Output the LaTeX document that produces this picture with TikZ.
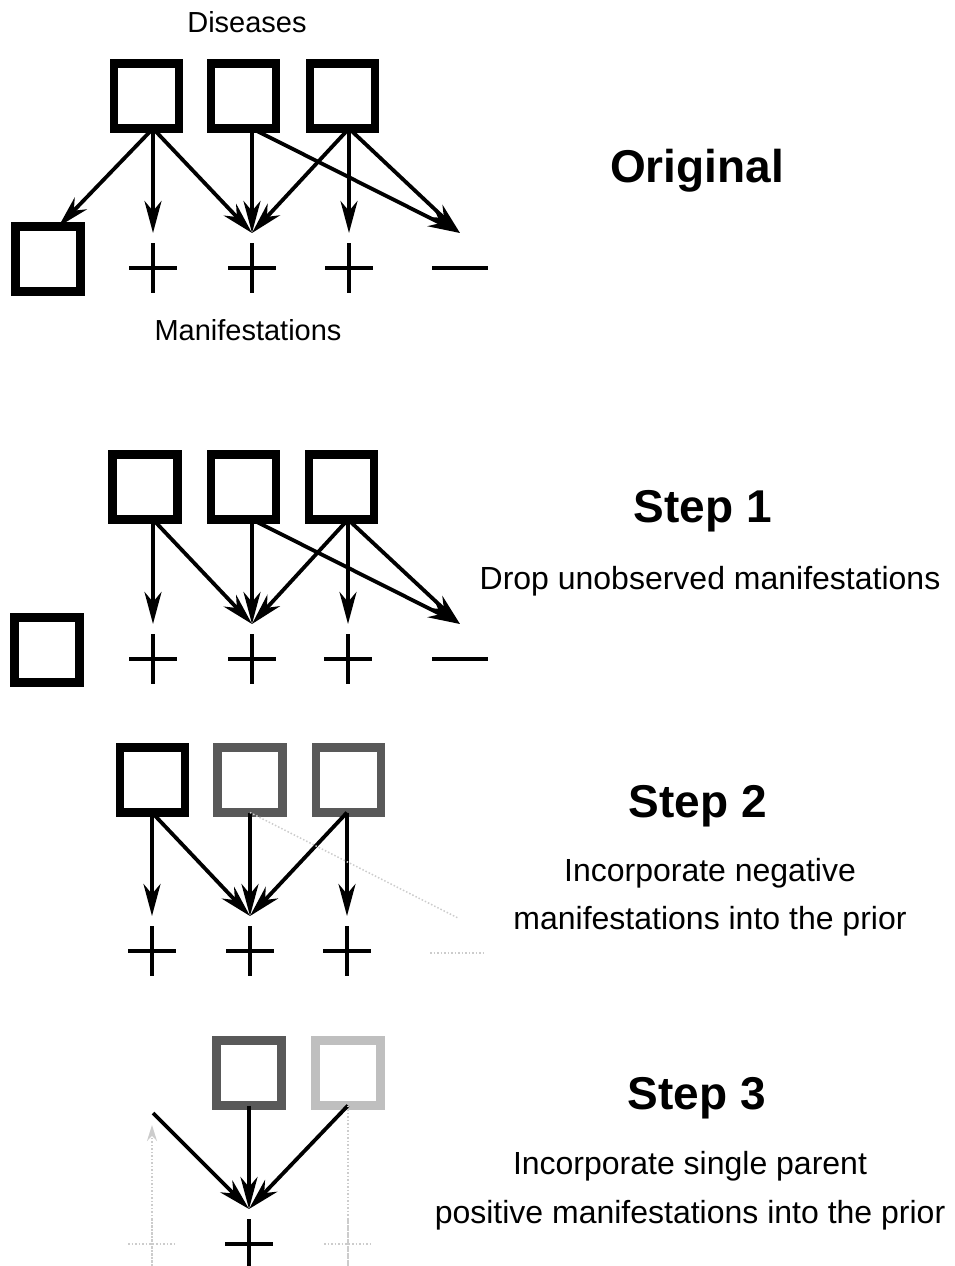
\documentclass[tikz,border=0pt]{standalone}
\usepackage{fontspec}
\setmainfont{Liberation Sans}
\usepackage{tikz}
\usepackage{tkz-graph}
\usetikzlibrary{arrows.meta}

\definecolor{darkgrey}{gray}{0.35}
\definecolor{lightgrey}{gray}{0.75}
\definecolor{faintgrey}{gray}{0.80}

\tikzset{
  diseasebox/.style={shape=rectangle, draw=#1, line width=8.5pt,
    minimum size=65pt, inner sep=0pt, fill=white},
  diseasebox/.default=black,
  plussign/.style={shape=rectangle, draw=none, minimum width=48pt,
    minimum height=70pt, inner sep=0pt, outer sep=0pt,
    path picture={\draw[line width=3.5pt, #1]
      ([yshift=25pt]path picture bounding box.center) --
      ([yshift=-25pt]path picture bounding box.center)
      (path picture bounding box.west) -- (path picture bounding box.east);}},
  plussign/.default=black,
  minussign/.style={shape=rectangle, draw=none, minimum width=56pt,
    minimum height=70pt, inner sep=0pt, outer sep=0pt,
    path picture={\draw[line width=3.5pt, #1]
      (path picture bounding box.west) -- (path picture bounding box.east);}},
  minussign/.default=black,
  title/.style={anchor=base, font=\bfseries\fontsize{46}{52}\selectfont},
  desc/.style={anchor=base, font=\fontsize{32}{38}\selectfont},
  lab/.style={anchor=base, font=\fontsize{29}{34}\selectfont},
  faintline/.style={line width=1.5pt, faintgrey, dotted}
}

\begin{document}
\begin{tikzpicture}[x=1pt, y=-1pt]
        \useasboundingbox (0,0) rectangle (955,1266);
        \GraphInit[vstyle=Normal]
        \tikzset{LabelStyle/.style={draw=none, fill=none}}
        % Original
        \tikzset{VertexStyle/.style={diseasebox}}
        \Vertex[x=146.5, y=96, NoLabel]{OD1}
        \Vertex[x=243.5, y=96, NoLabel]{OD2}
        \Vertex[x=342.5, y=96, NoLabel]{OD3}
        \Vertex[x=48, y=259, NoLabel]{OM}
        \tikzset{VertexStyle/.style={plussign}}
        \Vertex[x=153, y=268, NoLabel]{OP1}
        \Vertex[x=252, y=268, NoLabel]{OP2}
        \Vertex[x=349, y=268, NoLabel]{OP3}
        \tikzset{VertexStyle/.style={minussign}}
        \Vertex[x=460, y=268, NoLabel]{ON}
        % Step 1
        \tikzset{VertexStyle/.style={diseasebox}}
        \Vertex[x=145, y=487, NoLabel]{AD1}
        \Vertex[x=243.5, y=487, NoLabel]{AD2}
        \Vertex[x=341.5, y=487, NoLabel]{AD3}
        \Vertex[x=47, y=650, NoLabel]{AM}
        \tikzset{VertexStyle/.style={plussign}}
        \Vertex[x=153, y=659, NoLabel]{AP1}
        \Vertex[x=252, y=659, NoLabel]{AP2}
        \Vertex[x=348, y=659, NoLabel]{AP3}
        \tikzset{VertexStyle/.style={minussign}}
        \Vertex[x=460, y=659, NoLabel]{AN}
        % Step 2
        \tikzset{VertexStyle/.style={diseasebox}}
        \Vertex[x=152.5, y=780, NoLabel]{BD1}
        \tikzset{VertexStyle/.style={diseasebox=darkgrey}}
        \Vertex[x=250, y=780, NoLabel]{BD2}
        \Vertex[x=348.5, y=780, NoLabel]{BD3}
        \tikzset{VertexStyle/.style={plussign}}
        \Vertex[x=152, y=951, NoLabel]{BP1}
        \Vertex[x=250, y=951, NoLabel]{BP2}
        \Vertex[x=347, y=951, NoLabel]{BP3}
        \tikzset{VertexStyle/.style={minussign={faintgrey, line width=1.5pt, dotted}}}
        \Vertex[x=458, y=953, NoLabel]{BN}
        % Step 3
        \tikzset{VertexStyle/.style={diseasebox=darkgrey}}
        \Vertex[x=249, y=1073, NoLabel]{CD2}
        \tikzset{VertexStyle/.style={diseasebox=lightgrey}}
        \Vertex[x=348, y=1073, NoLabel]{CD3}
        \tikzset{VertexStyle/.style={plussign}}
        \Vertex[x=249, y=1244, NoLabel]{CP2}
        \tikzset{VertexStyle/.style={plussign={faintgrey, line width=1.5pt, dotted}}}
        \Vertex[x=152, y=1244, NoLabel]{CP1}
        \Vertex[x=348, y=1244, NoLabel]{CP3}
        \coordinate (CS1) at (153,1113);
        \coordinate (CF1) at (152,1125);

        \tikzset{EdgeStyle/.style={line width=3.8pt,
          -{Stealth[length=32pt, width=17pt, inset=10pt]}}}
        \Edge(OD1.south -| OP1)(OM.72)
        \Edge(OD1.south -| OP1)(OP1.north)
        \Edge(OD1.south -| OP1)(OP2.north)
        \Edge(OD2.south -| OP2)(OP2.north)
        \Edge(OD2.south -| OP2)(ON.north)
        \Edge(OD3.south -| OP3)(OP2.north)
        \Edge(OD3.south -| OP3)(OP3.north)
        \Edge(OD3.south -| OP3)(ON.north)
        \Edge(AD1.south -| AP1)(AP1.north)
        \Edge(AD1.south -| AP1)(AP2.north)
        \Edge(AD2.south -| AP2)(AP2.north)
        \Edge(AD2.south -| AP2)(AN.north)
        \Edge(AD3.south -| AP3)(AP2.north)
        \Edge(AD3.south -| AP3)(AP3.north)
        \Edge(AD3.south -| AP3)(AN.north)
        \Edge(BD1.south -| BP1)(BP1.north)
        \Edge(BD1.south -| BP1)(BP2.north)
        \Edge(BD2.south -| BP2)(BP2.north)
        \Edge(BD3.south -| BP3)(BP2.north)
        \Edge(BD3.south -| BP3)(BP3.north)
        \Edge(CS1)(CP2.north)
        \Edge(CD2.south)(CP2.north)
        \Edge(CD3.south)(CP2.north)
        \tikzset{EdgeStyle/.style={faintline}}
        \Edge(BD2.south)(BN.north)
        \Edge(CD3.south)(CP3.south)
        \tikzset{EdgeStyle/.style={faintline, -{Stealth[length=16pt, width=10pt]}}}
        \Edge(CP1.south)(CF1)

        \node[lab] (diseases) at (247,32) {Diseases};
        \node[lab] (manif) at (248,340) {Manifestations};
        \node[title] (orig) at (697,182) {Original};
        \node[title] (step1) at (703,522) {Step 1};
        \node[desc] (drop) at (710,589) {Drop unobserved manifestations};
        \node[title] (step2) at (698,817) {Step 2};
        \node[desc] (neg1) at (710,881) {Incorporate negative};
        \node[desc] (neg2) at (710,929) {manifestations into the prior};
        \node[title] (step3) at (697,1109) {Step 3};
        \node[desc] (pos1) at (690,1174) {Incorporate single parent};
        \node[desc] (pos2) at (690,1223) {positive manifestations into the prior};
    \end{tikzpicture}
\end{document}
